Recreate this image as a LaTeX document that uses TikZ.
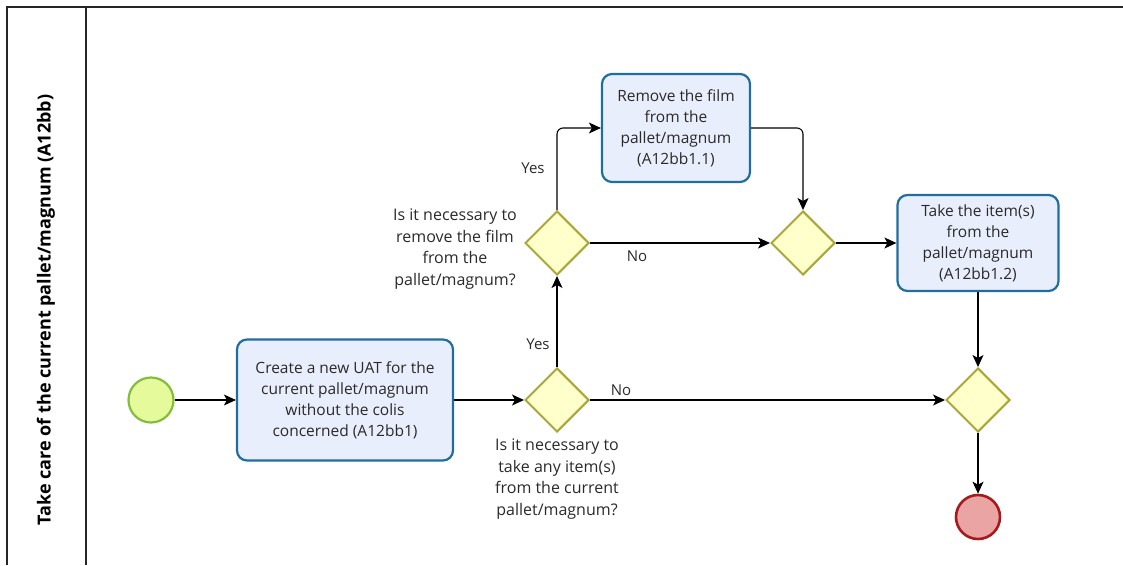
\documentclass[tikz,border=0pt]{standalone}
\usepackage{fontspec}
\setmainfont{Open Sans}
\usetikzlibrary{shapes.geometric,arrows.meta}
\definecolor{taskfill}{HTML}{E9EEFD}
\definecolor{taskdraw}{HTML}{1F6E9C}
\definecolor{gwfill}{HTML}{FFFFCC}
\definecolor{gwdraw}{HTML}{A8A83A}
\definecolor{startfill}{HTML}{E4FA9B}
\definecolor{startdraw}{HTML}{84BD3C}
\definecolor{endfill}{HTML}{EBA4A4}
\definecolor{enddraw}{HTML}{A51B1B}
\definecolor{txt}{HTML}{2A2A2A}
\tikzset{
  task/.style={draw=taskdraw, fill=taskfill, line width=2.2pt, rounded corners=10pt,
    align=center, text=txt, font=\fontsize{15.5}{21}\selectfont, inner sep=2pt},
  gw/.style={draw=gwdraw, fill=gwfill, line width=2pt, diamond, aspect=1,
    minimum width=64pt, minimum height=64pt, inner sep=0pt},
  gwlabel/.style={align=center, text=txt, font=\fontsize{16}{21.5}\selectfont, inner sep=0pt},
  flowlabel/.style={text=txt, font=\fontsize{15}{18}\selectfont, inner sep=0pt},
  flow/.style={draw=black, line width=1.1pt, -{Stealth[length=12pt,width=11pt,inset=3pt]}, rounded corners=6pt},
  lane/.style={draw=black!85, line width=1.4pt}
}
\begin{document}
\begin{tikzpicture}[x=1pt,y=-1pt]
\useasboundingbox (0,0) rectangle (1123,565);
% lane
\coordinate (lt) at (7,7);
\coordinate (rt) at (1123,7);
\coordinate (lb) at (7,565);
\coordinate (dt) at (86,7);
\coordinate (db) at (86,565);
\draw[lane] (rt) -- (lt) -- (lb);
\draw[lane] (dt) -- (db);
\node[rotate=90, font=\fontsize{18}{20}\selectfont\bfseries, text=black] (lanetitle) at (46,310) {Take care of the current pallet/magnum (A12bb)};

% nodes
\node[circle, draw=startdraw, fill=startfill, line width=2.2pt, minimum size=45pt, inner sep=0pt] (start) at (151,400) {};
\node[task, minimum width=216pt, minimum height=121pt] (t1) at (345,400) {Create a new UAT for the\\current pallet/magnum\\without the colis\\concerned (A12bb1)};
\node[gw] (g1) at (557,400) {};
\node[gw] (g2) at (557,243) {};
\node[task, minimum width=148pt, minimum height=108pt] (t2) at (676,128) {Remove the film\\from the\\pallet/magnum\\(A12bb1.1)};
\node[gw] (g3) at (803,243) {};
\node[task, minimum width=161pt, minimum height=96pt] (t3) at (978,243) {Take the item(s)\\from the\\pallet/magnum\\(A12bb1.2)};
\node[gw] (g4) at (978,400) {};
\node[circle, draw=enddraw, fill=endfill, line width=2.6pt, minimum size=44pt, inner sep=0pt] (end) at (978,517) {};

% gateway labels
\node[gwlabel] (g2lab) at (455,249) {Is it necessary to\\remove the film\\from the\\pallet/magnum?};
\node[gwlabel] (g1lab) at (557,479) {Is it necessary to\\take any item(s)\\from the current\\pallet/magnum?};

% flows
\draw[flow] (start) -- (t1);
\draw[flow] (t1) -- (g1);
\draw[flow] (g1.north) -- (g2.south);
\draw[flow] (g1.east) -- (g4.west);
\draw[flow] (g2.north) |- (t2.west);
\draw[flow] (g2.east) -- (g3.west);
\draw[flow] (t2.east) -| (g3.north);
\draw[flow] (g3.east) -- (t3.west);
\draw[flow] (t3.south) -- (g4.north);
\draw[flow] (g4.south) -- (end.north);

% flow labels
\node[flowlabel] (yes1) at (538,344) {Yes};
\node[flowlabel] (no1) at (621,390) {No};
\node[flowlabel] (yes2) at (533,168) {Yes};
\node[flowlabel] (no2) at (637,256) {No};
\end{tikzpicture}
\end{document}
